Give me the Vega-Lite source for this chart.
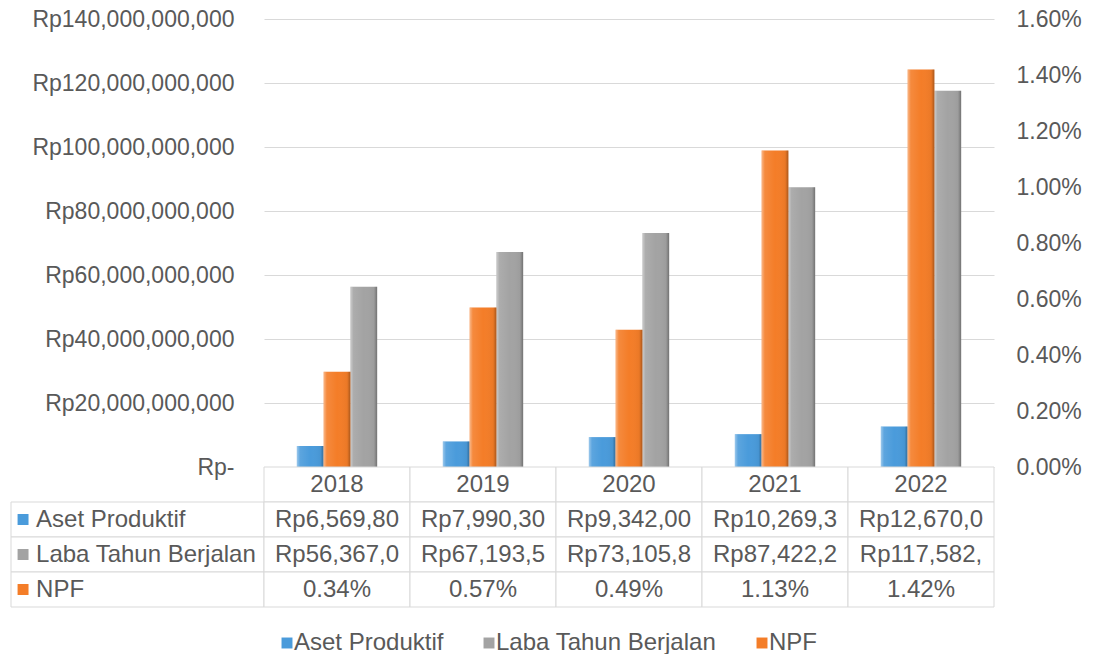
{
  "$schema": "https://vega.github.io/schema/vega-lite/v6.json",
  "padding": {"left": 10, "top": 8, "right": 5, "bottom": 0},
  "background": "white",
  "config": {
    "font": "Liberation Sans",
    "view": {"stroke": null},
    "text": {"font": "Liberation Sans", "fontSize": 24, "color": "#595959"},
    "axis": {"labelFont": "Liberation Sans", "labelFontSize": 23, "labelColor": "#595959", "labelLimit": 400, "ticks": false, "domain": false, "title": null},
    "legend": {"orient": "bottom", "direction": "horizontal", "title": null, "symbolType": "square", "symbolSize": 120, "symbolOpacity": 1, "symbolStrokeWidth": 0, "labelFont": "Liberation Sans", "labelFontSize": 24, "labelColor": "#595959", "columnPadding": 33, "labelOffset": -5, "offset": 23, "labelLimit": 400, "layout": {"bottom": {"anchor": "middle"}}}
  },
  "datasets": {
    "d": [
      {"Tahun": "2018", "Aset Produktif": 6569800000, "Laba Tahun Berjalan": 56367000000, "NPF": 0.0034},
      {"Tahun": "2019", "Aset Produktif": 7990300000, "Laba Tahun Berjalan": 67193500000, "NPF": 0.0057},
      {"Tahun": "2020", "Aset Produktif": 9342000000, "Laba Tahun Berjalan": 73105800000, "NPF": 0.0049},
      {"Tahun": "2021", "Aset Produktif": 10269300000, "Laba Tahun Berjalan": 87422200000, "NPF": 0.0113},
      {"Tahun": "2022", "Aset Produktif": 12670000000, "Laba Tahun Berjalan": 117582000000, "NPF": 0.0142}
    ]
  },
  "columns": 2,
  "bounds": "flush",
  "spacing": 0,
  "resolve": {"scale": {"color": "shared"}},
  "concat": [
    {
      "width": 1,
      "height": 1,
      "data": {"values": []},
      "mark": {"type": "text"}
    },
    {
      "width": 730,
      "height": 448,
      "data": {"name": "d"},
      "encoding": {
        "x": {"field": "Tahun", "type": "nominal", "axis": null, "scale": {"paddingInner": 0.45, "paddingOuter": 0.225}}
      },
      "layer": [
        {
          "transform": [{"fold": ["Aset Produktif", "Laba Tahun Berjalan"], "as": ["seri", "nilai"]}],
          "encoding": {
            "xOffset": {"field": "seri", "type": "nominal", "scale": {"domain": ["Aset Produktif", "NPF", "Laba Tahun Berjalan"], "paddingInner": 0, "paddingOuter": 0}},
            "y": {
              "field": "nilai", "type": "quantitative",
              "scale": {"domain": [0, 140000000000], "nice": false},
              "axis": {"orient": "left", "values": [0, 20000000000, 40000000000, 60000000000, 80000000000, 100000000000, 120000000000, 140000000000], "labelExpr": "datum.value == 0 ? 'Rp-' : 'Rp' + format(datum.value, ',')", "labelPadding": 30, "grid": true, "gridColor": "#D9D9D9", "gridWidth": 1}
            }
          },
          "layer": [
            {"mark": {"type": "bar"}, "encoding": {"color": {"field": "seri", "type": "nominal", "scale": {"domain": ["Aset Produktif", "Laba Tahun Berjalan", "NPF"], "range": ["#4A9BDB", "#A3A3A3", "#F47D28"]}}}},
            {"mark": {"type": "bar", "fill": {"gradient": "linear", "x1": 0, "x2": 1, "y1": 0, "y2": 0, "stops": [{"offset": 0, "color": "rgba(255,255,255,0.45)"}, {"offset": 0.12, "color": "rgba(255,255,255,0.1)"}, {"offset": 0.5, "color": "rgba(255,255,255,0)"}, {"offset": 0.88, "color": "rgba(0,0,0,0.04)"}, {"offset": 1, "color": "rgba(0,0,0,0.3)"}]}}}
          ]
        },
        {
          "encoding": {
            "xOffset": {"datum": "NPF", "type": "nominal"},
            "y": {
              "field": "NPF", "type": "quantitative",
              "scale": {"domain": [0, 0.016], "nice": false},
              "axis": {"orient": "right", "values": [0, 0.002, 0.004, 0.006, 0.008, 0.01, 0.012, 0.014, 0.016], "format": ".2%", "labelPadding": 22, "grid": false}
            }
          },
          "layer": [
            {"mark": {"type": "bar"}, "encoding": {"color": {"datum": "NPF", "type": "nominal"}}},
            {"mark": {"type": "bar", "fill": {"gradient": "linear", "x1": 0, "x2": 1, "y1": 0, "y2": 0, "stops": [{"offset": 0, "color": "rgba(255,255,255,0.45)"}, {"offset": 0.12, "color": "rgba(255,255,255,0.1)"}, {"offset": 0.5, "color": "rgba(255,255,255,0)"}, {"offset": 0.88, "color": "rgba(0,0,0,0.04)"}, {"offset": 1, "color": "rgba(0,0,0,0.3)"}]}}}
          ]
        }
      ],
      "resolve": {"scale": {"y": "independent"}}
    },
    {
      "width": 253,
      "height": 140,
      "data": {"name": "d"},
      "transform": [
        {"fold": ["Aset Produktif", "Laba Tahun Berjalan", "NPF"], "as": ["seri", "nilai"]},
        {"aggregate": [{"op": "count", "as": "n"}], "groupby": ["seri"]}
      ],
      "encoding": {
        "y": {"field": "seri", "type": "nominal", "axis": null, "scale": {"domain": ["Tahun", "Aset Produktif", "Laba Tahun Berjalan", "NPF"], "paddingInner": 0, "paddingOuter": 0}}
      },
      "layer": [
        {"mark": {"type": "rect", "fill": "white", "stroke": "#D9D9D9", "strokeWidth": 1}},
        {"mark": {"type": "point", "shape": "square", "filled": true, "size": 120, "opacity": 1}, "encoding": {"x": {"datum": 0, "type": "quantitative", "scale": {"domain": [-0.05, 1], "nice": false, "zero": false}, "axis": null}, "color": {"field": "seri", "type": "nominal"}}},
        {"mark": {"type": "text", "align": "left", "dx": 13}, "encoding": {"x": {"datum": 0, "type": "quantitative"}, "text": {"field": "seri"}}}
      ]
    },
    {
      "width": 730,
      "height": 140,
      "data": {"name": "d"},
      "encoding": {
        "x": {"field": "Tahun", "type": "nominal", "axis": null, "scale": {"paddingInner": 0, "paddingOuter": 0}}
      },
      "layer": [
        {
          "encoding": {"y": {"datum": "Tahun", "type": "nominal", "axis": null, "scale": {"domain": ["Tahun", "Aset Produktif", "Laba Tahun Berjalan", "NPF"], "paddingInner": 0, "paddingOuter": 0}}},
          "layer": [
            {"mark": {"type": "rect", "fill": "white", "stroke": "#D9D9D9", "strokeWidth": 1}},
            {"mark": {"type": "text"}, "encoding": {"text": {"field": "Tahun"}}}
          ]
        },
        {
          "transform": [
            {"fold": ["Aset Produktif", "Laba Tahun Berjalan", "NPF"], "as": ["seri", "nilai"]},
            {"calculate": "datum.seri == 'NPF' ? format(datum.nilai, '.2%') : substring('Rp' + format(datum.nilai, ','), 0, 10)", "as": "teks"}
          ],
          "encoding": {"y": {"field": "seri", "type": "nominal", "axis": null}},
          "layer": [
            {"mark": {"type": "rect", "fill": "white", "stroke": "#D9D9D9", "strokeWidth": 1}},
            {"mark": {"type": "text"}, "encoding": {"text": {"field": "teks"}}}
          ]
        }
      ]
    }
  ]
}
